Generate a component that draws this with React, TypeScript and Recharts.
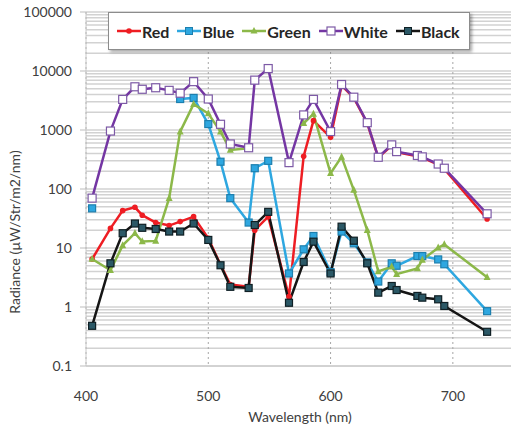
import React from "react"
import {
    LineChart,
    Line,
    XAxis,
    YAxis,
    CartesianGrid,
} from "recharts"

// wavelengths of the measured bands (nm)
const wavelengths = [
    405, 420, 430, 440, 446, 457, 468, 477, 488, 500, 510, 518, 533, 538, 549,
    566, 578, 586, 600, 609, 619, 630, 639, 650, 654, 671, 675, 688, 693, 728,
]

// radiance per band, µW/Str/m2/nm (null = not measured)
const red = [
    6.5, 21.5, 43, 49, 36, 27, 24, 28, 34, 14.6, 5.2, 2.4, 2.2, 20, 34,
    1.5, 360, 1440, 750, 5700, 3500, 1300, 340, 545, 420, 360, 340, 258, 218, 31,
]
const blue = [
    47, null, null, null, null, null, null, 3350, 3500, 1260, 290, 70, 27, 225, 300,
    3.7, 9.5, 16, 3.9, 19, 12, 5.7, 2.7, 5.5, 5.0, 7.3, 7.3, 6.4, 5.3, 0.85,
]
const green = [
    6.5, 4.2, 11.1, 17.8, 12.9, 13.2, 70, 940, 2750, 1900, 940, 460, 490, null, null,
    null, 1300, 1870, 185, 350, 96, 20, 4.0, 4.8, 3.6, 4.5, 6.3, 10.1, 11.5, 3.2,
]
const white = [
    70, 960, 3300, 5400, 4900, 5200, 4700, 4200, 6600, 3350, 1250, 580, 500, 7000, 11000,
    280, 1800, 3300, 940, 5900, 3600, 1330, 345, 560, 430, 370, 350, 265, 225, 38,
]
const black = [
    0.48, 5.5, 17.8, 26, 22, 21, 19, 19, 26, 13.7, 5.1, 2.2, 2.1, 24.5, 41,
    1.18, 5.8, 12.8, 3.7, 23, 13.3, 5.5, 1.75, 2.27, 1.94, 1.54, 1.44, 1.35, 1.04, 0.38,
]

const xTicks = [400, 500, 600, 700]
const decades = [0.1, 1, 10, 100, 1000, 10000, 100000]

// minor log ticks 1..9 inside every decade, for the grid
const yTicks: number[] = []
decades.forEach((d) => {
    if (d === 100000) {
        yTicks.push(d)
        return
    }
    for (let k = 1; k <= 9; k++) yTicks.push(+(d * k).toPrecision(3))
})

const data = wavelengths.map((wl, i) => ({
    wl,
    red: red[i],
    blue: blue[i],
    green: green[i],
    white: white[i],
    black: black[i],
}))

const COLORS = {
    red: "#ee1d23",
    blue: "#2ea7e0",
    green: "#8cb849",
    white: "#7436a3",
    black: "#151515",
}

const FONT = "Lato, 'Open Sans', sans-serif"

type DotProps = { cx?: number; cy?: number; index?: number; value?: number | null }

const squareDot = (size: number, fill: string, stroke: string) => (p: DotProps) => {
    if (p.cx == null || p.cy == null || p.value == null) return <g key={p.index} />
    return (
        <rect
            key={p.index}
            x={p.cx - size / 2}
            y={p.cy - size / 2}
            width={size}
            height={size}
            fill={fill}
            stroke={stroke}
            strokeWidth={1.2}
        />
    )
}

const circleDot = (r: number, fill: string) => (p: DotProps) => {
    if (p.cx == null || p.cy == null || p.value == null) return <g key={p.index} />
    return <circle key={p.index} cx={p.cx} cy={p.cy} r={r} fill={fill} />
}

const triangleDot = (s: number, fill: string) => (p: DotProps) => {
    if (p.cx == null || p.cy == null || p.value == null) return <g key={p.index} />
    const { cx, cy } = p
    return (
        <polygon
            key={p.index}
            points={`${cx},${cy - s * 0.6} ${cx - s / 2},${cy + s * 0.4} ${cx + s / 2},${cy + s * 0.4}`}
            fill={fill}
        />
    )
}

const YTick = (props: any) => {
    const { x, y, payload } = props
    const v = payload.value
    if (!decades.includes(v)) return <g />
    return (
        <g>
            <line x1={80} x2={86} y1={y} y2={y} stroke="#bdbdbd" />
            <text x={x} y={y} dy={5} textAnchor="end" fontSize={14} fill="#404040" fontFamily={FONT}>
                {v < 1 ? "0.1" : String(v)}
            </text>
        </g>
    )
}

const YTitle = () => (
    <text
        transform="translate(20,232) rotate(-90)"
        textAnchor="middle"
        fontSize={14}
        fill="#404040"
        fontFamily={FONT}
    >
        Radiance (µW/Str/m2/nm)
    </text>
)

const XTitle = () => (
    <text x={300} y={422} textAnchor="middle" fontSize={14} fill="#404040" fontFamily={FONT}>
        Wavelength (nm)
    </text>
)

const legendItems = [
    { name: "Red", key: "red" },
    { name: "Blue", key: "blue" },
    { name: "Green", key: "green" },
    { name: "White", key: "white" },
    { name: "Black", key: "black" },
]

function LegendIcon({ k }: { k: string }) {
    const c = (COLORS as any)[k]
    let marker = null
    if (k === "red") marker = <circle cx={12} cy={8} r={2.8} fill={c} />
    if (k === "blue") marker = <rect x={8.5} y={4.5} width={7} height={7} fill="#2ea7e0" stroke="#1d7fae" />
    if (k === "green") marker = <polygon points="12,4 8.5,10.5 15.5,10.5" fill={c} />
    if (k === "white") marker = <rect x={8} y={4} width={8} height={8} fill="#fff" stroke="#7d5aa6" strokeWidth={1.2} />
    if (k === "black") marker = <rect x={8.5} y={4.5} width={7} height={7} fill="#2b5866" stroke="#0f1f24" />
    return (
        <svg width={24} height={16} style={{ display: "block" }}>
            <line x1={0} x2={24} y1={8} y2={8} stroke={c} strokeWidth={2.5} />
            {marker}
        </svg>
    )
}

export default function App() {
    return (
        <div
            style={{
                position: "fixed",
                left: 0,
                top: 0,
                width: 511,
                height: 432,
                overflow: "hidden",
                background: "#fff",
            }}
        >
            <LineChart
                width={520}
                height={432}
                data={data}
                margin={{ top: 12, right: 6, left: 0, bottom: 0 }}
            >
                <CartesianGrid vertical={false} stroke="#d2d2d2" strokeWidth={1.5} />
                <CartesianGrid horizontal={false} stroke="#a6a6a6" strokeDasharray="2 3" />
                <XAxis
                    dataKey="wl"
                    type="number"
                    domain={[400, 750]}
                    ticks={xTicks}
                    tickLine={false}
                    tickSize={0}
                    tickMargin={25}
                    height={66}
                    stroke="#c8c8c8"
                    tick={{ fontSize: 14, fill: "#404040", fontFamily: FONT }}
                    label={{ content: XTitle }}
                />
                <YAxis
                    scale="log"
                    domain={[0.1, 100000]}
                    ticks={yTicks}
                    interval={0}
                    allowDataOverflow
                    width={86}
                    tickLine={false}
                    tickSize={0}
                    tickMargin={14}
                    stroke="#c8c8c8"
                    tick={<YTick />}
                    label={{ content: YTitle }}
                />
                <Line
                    dataKey="red"
                    stroke={COLORS.red}
                    strokeWidth={2.5}
                    dot={circleDot(2.8, COLORS.red)}
                    activeDot={false}
                    isAnimationActive={false}
                />
                <Line
                    dataKey="blue"
                    stroke={COLORS.blue}
                    strokeWidth={2.5}
                    dot={squareDot(7, "#2ea7e0", "#1d7fae")}
                    activeDot={false}
                    isAnimationActive={false}
                />
                <Line
                    dataKey="green"
                    stroke={COLORS.green}
                    strokeWidth={2.5}
                    dot={triangleDot(7, COLORS.green)}
                    activeDot={false}
                    isAnimationActive={false}
                />
                <Line
                    dataKey="white"
                    stroke={COLORS.white}
                    strokeWidth={2.5}
                    dot={squareDot(8, "#ffffff", "#7d5aa6")}
                    activeDot={false}
                    isAnimationActive={false}
                />
                <Line
                    dataKey="black"
                    stroke={COLORS.black}
                    strokeWidth={2.5}
                    dot={squareDot(7, "#2b5866", "#0f1f24")}
                    activeDot={false}
                    isAnimationActive={false}
                />
            </LineChart>
            <div
                style={{
                    position: "absolute",
                    left: 108,
                    top: 12,
                    width: 362,
                    height: 38,
                    background: "#fff",
                    border: "1px solid #8c8c8c",
                    boxShadow: "2px 2px 3px rgba(0,0,0,0.35)",
                    display: "flex",
                    alignItems: "center",
                    paddingLeft: 8,
                    boxSizing: "border-box",
                    fontFamily: FONT,
                    fontWeight: 700,
                    fontSize: 16,
                    color: "#262626",
                }}
            >
                {legendItems.map((it) => (
                    <div key={it.key} style={{ display: "flex", alignItems: "center", marginRight: 8 }}>
                        <LegendIcon k={it.key} />
                        <span style={{ marginLeft: 1 }}>{it.name}</span>
                    </div>
                ))}
            </div>
        </div>
    )
}
